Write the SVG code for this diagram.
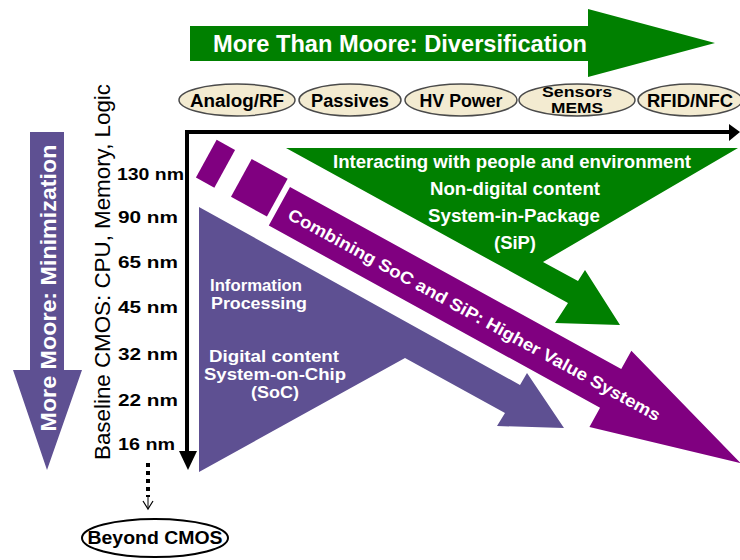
<svg xmlns="http://www.w3.org/2000/svg" width="740" height="560" viewBox="0 0 740 560">
<style>
.w{fill:#ffffff;font-family:"Liberation Sans",Arial,sans-serif;font-weight:bold}
.k{fill:#000000;font-family:"Liberation Sans",Arial,sans-serif;font-weight:bold}
.ell{fill:#f3ebd1;stroke:#4a4a4a;stroke-width:1.5}
.green{fill:#008000}
.purple{fill:#800080}
.violet{fill:#5e5092}
</style>
<rect width="740" height="560" fill="#ffffff"/>

<g id="title-arrow">
<polygon class="green" points="190,26 588,26 588,9 715,43 588,77 588,61 190,61"/>
<text class="w" x="400" y="52" font-size="23" text-anchor="middle" textLength="374" lengthAdjust="spacingAndGlyphs">More Than Moore: Diversification</text>
</g>

<g id="analog-rf">
<ellipse class="ell" cx="237" cy="100" rx="58" ry="16"/>
<text class="k" x="237" y="107" font-size="18" text-anchor="middle" textLength="94" lengthAdjust="spacingAndGlyphs">Analog/RF</text>
</g>
<g id="passives">
<ellipse class="ell" cx="350" cy="100" rx="51" ry="16"/>
<text class="k" x="350" y="107" font-size="18" text-anchor="middle" textLength="78" lengthAdjust="spacingAndGlyphs">Passives</text>
</g>
<g id="hv-power">
<ellipse class="ell" cx="461" cy="100" rx="56" ry="16"/>
<text class="k" x="461" y="107" font-size="18" text-anchor="middle" textLength="83" lengthAdjust="spacingAndGlyphs">HV Power</text>
</g>
<g id="sensors-mems">
<ellipse class="ell" cx="577" cy="100" rx="58" ry="16"/>
<text class="k" x="577" y="97" font-size="14" text-anchor="middle" textLength="70" lengthAdjust="spacingAndGlyphs">Sensors</text>
<text class="k" x="577" y="113" font-size="14" text-anchor="middle" textLength="52" lengthAdjust="spacingAndGlyphs">MEMS</text>
</g>
<g id="rfid-nfc">
<ellipse class="ell" cx="690" cy="100" rx="52" ry="16"/>
<text class="k" x="690" y="107" font-size="18" text-anchor="middle" textLength="86" lengthAdjust="spacingAndGlyphs">RFID/NFC</text>
</g>

<g id="more-moore-arrow">
<polygon class="violet" points="30,132 64,132 64,370 82,370 47,470 13,370 30,370"/>
<text class="w" transform="translate(56,288) rotate(-90)" x="0" y="0" font-size="22" text-anchor="middle" textLength="287" lengthAdjust="spacingAndGlyphs">More Moore: Minimization</text>
</g>

<g id="baseline-label">
<text transform="translate(110,272) rotate(-90)" x="0" y="0" font-family="Liberation Sans, Arial, sans-serif" font-size="22" fill="#000" text-anchor="middle" textLength="376" lengthAdjust="spacingAndGlyphs">Baseline CMOS: CPU, Memory, Logic</text>
</g>

<g id="node-labels">
<text class="k" x="117" y="180" font-size="16" textLength="67" lengthAdjust="spacingAndGlyphs">130 nm</text>
<text class="k" x="118" y="223" font-size="16" textLength="60" lengthAdjust="spacingAndGlyphs">90 nm</text>
<text class="k" x="118" y="268" font-size="16" textLength="60" lengthAdjust="spacingAndGlyphs">65 nm</text>
<text class="k" x="118" y="313" font-size="16" textLength="60" lengthAdjust="spacingAndGlyphs">45 nm</text>
<text class="k" x="118" y="360" font-size="16" textLength="60" lengthAdjust="spacingAndGlyphs">32 nm</text>
<text class="k" x="118" y="406" font-size="16" textLength="60" lengthAdjust="spacingAndGlyphs">22 nm</text>
<text class="k" x="118" y="450" font-size="16" textLength="57" lengthAdjust="spacingAndGlyphs">16 nm</text>
</g>

<g id="sip-region">
<polygon class="green" points="286,148 738,148 543,262 578,281 585,270 620,325 555,323 568,303"/>
<text class="w" x="512" y="168" font-size="19" text-anchor="middle" textLength="358" lengthAdjust="spacingAndGlyphs">Interacting with people and environment</text>
<text class="w" x="515" y="195" font-size="19" text-anchor="middle" textLength="170" lengthAdjust="spacingAndGlyphs">Non-digital content</text>
<text class="w" x="514" y="222" font-size="19" text-anchor="middle" textLength="172" lengthAdjust="spacingAndGlyphs">System-in-Package</text>
<text class="w" x="515" y="249" font-size="19" text-anchor="middle" textLength="42" lengthAdjust="spacingAndGlyphs">(SiP)</text>
</g>

<g id="soc-region">
<polygon class="violet" points="199,207 520,385 527,373 564,428 497,426 505,413 405,358 199,472"/>
<text class="w" x="210" y="291" font-size="16" textLength="92" lengthAdjust="spacingAndGlyphs">Information</text>
<text class="w" x="211" y="309" font-size="16" textLength="96" lengthAdjust="spacingAndGlyphs">Processing</text>
<text class="w" x="274" y="362" font-size="17" text-anchor="middle" textLength="130" lengthAdjust="spacingAndGlyphs">Digital content</text>
<text class="w" x="275" y="380" font-size="17" text-anchor="middle" textLength="142" lengthAdjust="spacingAndGlyphs">System-on-Chip</text>
<text class="w" x="275" y="398" font-size="17" text-anchor="middle" textLength="48" lengthAdjust="spacingAndGlyphs">(SoC)</text>
</g>

<g id="combining-band" transform="translate(290,187) rotate(28.8)">
<rect class="purple" x="-87" y="-6" width="21" height="43"/>
<rect class="purple" x="-47" y="-6" width="41" height="43"/>
<polygon class="purple" points="0,0 378,0 378,-21 528,25 378,66 378,44 0,44"/>
<text class="w" x="12" y="29" font-size="17" textLength="422" lengthAdjust="spacingAndGlyphs">Combining SoC and SiP: Higher Value Systems</text>
</g>

<g id="beyond-cmos">
<ellipse cx="155" cy="538" rx="73" ry="19" fill="#ffffff" stroke="#000" stroke-width="2"/>
<text class="k" x="155" y="544" font-size="18" text-anchor="middle" textLength="135" lengthAdjust="spacingAndGlyphs">Beyond CMOS</text>
</g>

<g id="connectors">
<path d="M187,453 V132 H730" fill="none" stroke="#000" stroke-width="4" stroke-linejoin="miter"/>
<polygon points="729,124 740,132 729,141" fill="#000"/>
<polygon points="179,451 197,451 188,470" fill="#000"/>
<line x1="148" y1="463" x2="148" y2="497" stroke="#000" stroke-width="4" stroke-dasharray="4 4"/>
<line x1="148" y1="497" x2="148" y2="508" stroke="#000" stroke-width="1"/>
<polyline points="143,501 148,509 153,501" fill="none" stroke="#000" stroke-width="1.2"/>
</g>
</svg>
